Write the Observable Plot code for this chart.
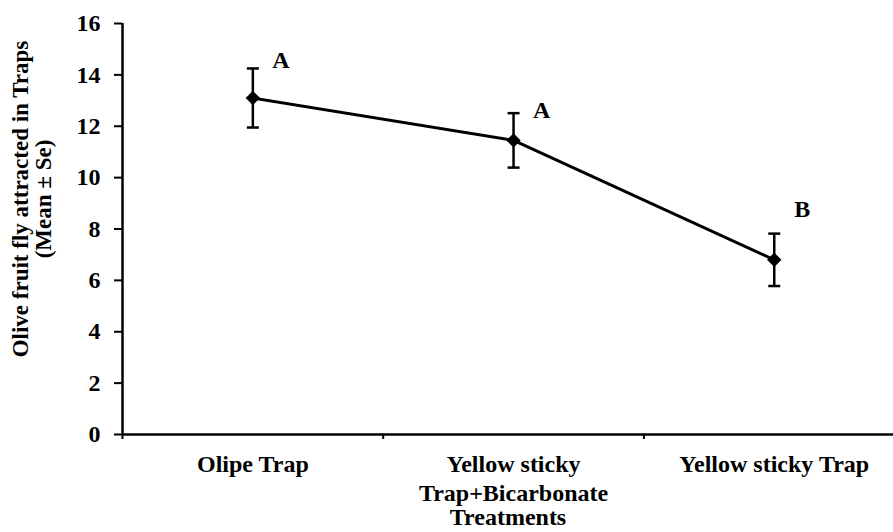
<!DOCTYPE html>
<html>
<head>
<meta charset="utf-8">
<script src="https://cdn.jsdelivr.net/npm/d3@7"></script>
<script src="https://cdn.jsdelivr.net/npm/@observablehq/plot@0.6"></script>
<style>
  html, body { margin: 0; padding: 0; background: white; }
  #chart svg, #chart svg text { font-family: "Liberation Serif", "Times New Roman", Times, serif !important; font-weight: bold; }
</style>
</head>
<body>
<div id="chart"></div>
<script>
// ---- data ----
const categories = ["Olipe Trap", "Yellow sticky\nTrap+Bicarbonate", "Yellow sticky Trap"];
const means = [13.1, 11.45, 6.8];
const stdErrors = [1.15, 1.06, 1.02];
const groupLetters = ["A", "A", "B"];
const letterY = [14.57, 12.62, 8.77];
const yTicks = [0, 2, 4, 6, 8, 10, 12, 14, 16];
const yTitle = "Olive fruit fly attracted in Traps\n(Mean ± Se)";
const xTitle = "Treatments";

const data = categories.map((c, i) => ({
  pos: i + 0.5,
  category: c,
  mean: means[i],
  se: stdErrors[i],
  letter: groupLetters[i],
  letterY: letterY[i]
}));

const cap = {
  draw(ctx, size) {
    const w = Math.sqrt(size / Math.PI);
    ctx.moveTo(-w, 0);
    ctx.lineTo(w, 0);
  }
};

const font = "Liberation Serif";

const chart = Plot.plot({
  width: 893,
  height: 532,
  marginLeft: 122,
  marginRight: 0,
  marginTop: 23,
  marginBottom: 98,
  style: {fontFamily: font, fontWeight: "bold", fontSize: "22px", color: "black", background: "white"},
  x: {domain: [0, categories.length], range: [122, 122 + 260.7 * categories.length], axis: null, label: null},
  y: {domain: [0, 16], axis: null, label: null},
  marks: [
    Plot.axisY({ticks: yTicks, label: null, tickSize: 8, tickPadding: 14, strokeWidth: 2, fontSize: 24, fontFamily: font, tickFormat: d => String(d)}),
    Plot.ruleX([0], {y1: 0, y2: 16, strokeWidth: 2.5}),
    Plot.ruleY([0], {strokeWidth: 2.5}),
    Plot.axisX({ticks: d3.range(categories.length), label: null, tickSize: 5, strokeWidth: 2, tickFormat: () => ""}),
    Plot.text(data, {x: "pos", text: "category", frameAnchor: "bottom", lineAnchor: "top", dy: 18, fontSize: 24, fontFamily: font, lineHeight: 1.17}),
    Plot.text([xTitle], {frameAnchor: "bottom", lineAnchor: "top", dy: 73, fontSize: 24, fontFamily: font}),
    Plot.text([yTitle], {frameAnchor: "left", textAnchor: "middle", lineAnchor: "middle", rotate: -90, dx: -90.5, dy: -30, fontSize: 23, fontFamily: font, lineHeight: 1.0}),
    Plot.ruleX(data, {x: "pos", y1: d => d.mean - d.se, y2: d => d.mean + d.se, strokeWidth: 2.5}),
    Plot.dot(data, {x: "pos", y: d => d.mean - d.se, symbol: cap, r: 6, stroke: "black", strokeWidth: 2.5}),
    Plot.dot(data, {x: "pos", y: d => d.mean + d.se, symbol: cap, r: 6, stroke: "black", strokeWidth: 2.5}),
    Plot.line(data, {x: "pos", y: "mean", stroke: "black", strokeWidth: 3}),
    Plot.dot(data, {x: "pos", y: "mean", symbol: "diamond2", r: 6.5, fill: "black", stroke: "none"}),
    Plot.text(data, {x: "pos", y: "letterY", text: "letter", dx: 28, fontSize: 24, fontFamily: font})
  ]
});

document.getElementById("chart").appendChild(chart);
</script>
</body>
</html>
